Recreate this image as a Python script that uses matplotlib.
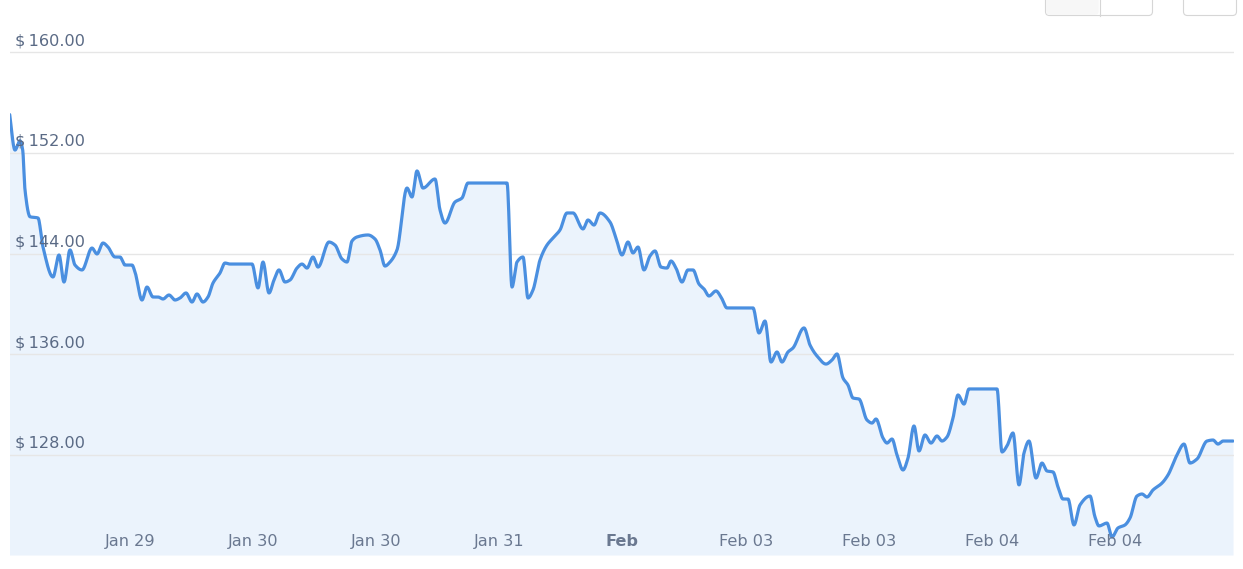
import numpy as np
import matplotlib
matplotlib.use("Agg")
import matplotlib.pyplot as plt
from matplotlib.patches import FancyBboxPatch, Rectangle
from matplotlib.transforms import Affine2D

# ---- data (time index in chart units, price in USD) ----
time_idx = [
    -0.7, 5, 10, 12.7, 15, 20, 28, 33, 43, 49, 54, 60, 65, 72, 82, 87, 93, 98, 105, 110,
    115, 122, 125, 132, 137, 143, 148, 153, 159, 165, 170, 176, 182, 187, 193, 198, 203, 210,
    215, 220, 242, 248, 253, 259, 264, 269, 275, 280, 287, 292, 297, 303, 308, 319, 325, 332,
    337, 342, 347, 358, 365, 370, 375, 380, 387, 397, 402, 407, 413, 425, 430, 435, 445, 452,
    458, 497, 502, 507, 513, 518, 523, 530, 537, 543, 550, 557, 563, 573, 578, 584, 590, 600,
    606, 612, 618, 623, 628, 634, 640, 645, 651, 657, 661, 666, 672, 678, 683, 689, 694, 699,
    706, 711, 717, 743, 749, 755, 761, 767, 772, 778, 783, 794, 800, 807, 816, 822, 827, 833,
    838, 843, 849, 857, 862, 866, 873, 877, 882, 887, 893, 898, 904, 909, 915, 921, 927, 932,
    937, 943, 948, 954, 959, 987, 992, 997, 1003, 1009, 1014, 1019, 1026, 1032, 1037, 1043,
    1048, 1053, 1058, 1064, 1070, 1080, 1085, 1089, 1097, 1102, 1108, 1115, 1120, 1127, 1132,
    1137, 1143, 1152, 1158, 1167, 1174, 1180, 1187, 1197, 1203, 1208, 1213, 1223,
]
price = [
    155.29, 152.24, 152.98, 152.24, 149.07, 146.94, 146.84, 144.53, 142.15, 143.90, 141.75,
    144.30, 143.10, 142.71, 144.45, 143.98, 144.85, 144.53, 143.74, 143.74, 143.10, 143.10,
    142.55, 140.32, 141.35, 140.56, 140.56, 140.40, 140.72, 140.32, 140.48, 140.88, 140.16,
    140.80, 140.16, 140.56, 141.67, 142.47, 143.26, 143.18, 143.18, 141.28, 143.34, 140.88,
    141.91, 142.71, 141.75, 141.91, 142.86, 143.18, 142.86, 143.74, 142.94, 144.93, 144.69,
    143.58, 143.34, 145.01, 145.33, 145.49, 145.17, 144.30, 143.02, 143.34, 144.30, 149.22,
    148.51, 150.58, 149.22, 149.94, 147.48, 146.44, 148.11, 148.43, 149.62, 149.62, 141.35,
    143.34, 143.74, 140.48, 141.12, 143.50, 144.69, 145.25, 145.89, 147.24, 147.24, 145.97,
    146.68, 146.28, 147.24, 146.52, 145.25, 143.90, 144.93, 144.06, 144.53, 142.71, 143.82,
    144.22, 142.94, 142.86, 143.42, 142.86, 141.75, 142.71, 142.71, 141.59, 141.20, 140.64,
    141.04, 140.56, 139.69, 139.69, 137.70, 138.65, 135.39, 136.19, 135.39, 136.19, 136.51,
    138.10, 136.74, 135.87, 135.23, 135.55, 136.03, 134.12, 133.56, 132.53, 132.45, 130.78,
    130.54, 130.86, 129.35, 128.95, 129.27, 128.00, 126.81, 127.76, 130.31, 128.32, 129.59,
    128.95, 129.51, 129.11, 129.43, 130.94, 132.77, 132.05, 133.25, 133.25, 128.24, 128.72,
    129.75, 125.62, 128.16, 129.11, 126.17, 127.36, 126.73, 126.65, 125.46, 124.50, 124.50,
    122.44, 124.03, 124.74, 123.07, 122.36, 122.59, 121.48, 122.20, 122.44, 122.99, 124.74,
    124.90, 124.66, 125.22, 125.77, 126.41, 128.00, 128.87, 127.36, 127.68, 129.11, 129.19,
    128.87, 129.11, 129.11,
]
tick_pos = [120, 243, 366, 489, 612, 736, 859, 982, 1105]
tick_labels = ["Jan 29", "Jan 30", "Jan 30", "Jan 31", "Feb", "Feb 03", "Feb 03", "Feb 04", "Feb 04"]
bold_ticks = ["Feb"]
y_ticks = [128, 136, 144, 152, 160]

LINE = "#4a8fe0"
FILL = "#ebf3fc"
GRID = "#e6e6e6"
YLAB = "#5a6a85"
XLAB = "#6a7890"


def pchip(x, y, xs):
    x = np.asarray(x, float)
    y = np.asarray(y, float)
    h = np.diff(x)
    d = np.diff(y) / h
    m = np.zeros_like(y)
    for k in range(1, len(x) - 1):
        if d[k - 1] * d[k] > 0:
            w1 = 2 * h[k] + h[k - 1]
            w2 = h[k] + 2 * h[k - 1]
            m[k] = (w1 + w2) / (w1 / d[k - 1] + w2 / d[k])
    m[0] = d[0]
    m[-1] = d[-1]
    idx = np.clip(np.searchsorted(x, xs) - 1, 0, len(x) - 2)
    t = (xs - x[idx]) / h[idx]
    h00 = 2 * t**3 - 3 * t**2 + 1
    h10 = t**3 - 2 * t**2 + t
    h01 = -2 * t**3 + 3 * t**2
    h11 = t**3 - t**2
    return h00 * y[idx] + h10 * h[idx] * m[idx] + h01 * y[idx + 1] + h11 * h[idx] * m[idx + 1]


W, H = 1243, 569
fig = plt.figure(figsize=(W / 100, H / 100), dpi=100)
ax = fig.add_axes([10 / W, (H - 555) / H, 1224 / W, 555 / H])

xs = np.linspace(time_idx[0], time_idx[-1], 3000)
ys = pchip(time_idx, price, xs)

ymin = 128 - 100 / 12.58
ymax = 128 + 455 / 12.58
ax.set_xlim(0, 1224)
ax.set_ylim(ymin, ymax)

ax.fill_between(xs, ys, ymin, color=FILL, lw=0, zorder=1)
for yv in y_ticks:
    ax.axhline(yv, color=GRID, lw=1, zorder=2)
ax.plot(xs, ys, color=LINE, lw=2.3, solid_capstyle="round", zorder=3)

for s in ax.spines.values():
    s.set_visible(False)
ax.set_xticks([])
ax.set_yticks([])

for yv in y_ticks:
    ax.annotate("$\u2009%.2f" % yv, xy=(0, yv), xycoords=("axes fraction", "data"),
                xytext=(3.6, 5.2), textcoords="offset points", ha="left", va="baseline",
                fontsize=11.6, color=YLAB, family="DejaVu Sans", parse_math=False, zorder=4)

for tp, tl in zip(tick_pos, tick_labels):
    ax.annotate(tl, xy=(tp, 0), xycoords=("data", "axes fraction"),
                xytext=(0, 10), textcoords="offset points", ha="center", va="center",
                fontsize=11.6, color=XLAB, family="DejaVu Sans",
                fontweight="bold" if tl in bold_ticks else "normal", zorder=4)

# top-right buttons (partially cut off)
def px_box(x0, y0, x1, y1, fc, ec):
    p = FancyBboxPatch((x0, H - y1), x1 - x0, y1 - y0,
                       boxstyle="round,pad=0,rounding_size=4",
                       transform=fig.dpi_scale_trans + Affine2D().scale(1) if False else None,
                       fc=fc, ec=ec, lw=0.8)
    return p

from matplotlib.transforms import IdentityTransform
for (x0, x1) in [(1045.5, 1152.5), (1183.5, 1236.5)]:
    p = FancyBboxPatch((x0, H - 15.5), x1 - x0, 30,
                       boxstyle="round,pad=0,rounding_size=4",
                       transform=IdentityTransform(), fc="white", ec="#d6d6d6", lw=0.8)
    fig.patches.append(p)
left = FancyBboxPatch((1046.2, H - 14.8), 52.5, 30,
                      boxstyle="round,pad=0,rounding_size=3.5",
                      transform=IdentityTransform(), fc="#f7f7f7", ec="none")
fig.patches.append(left)
fig.add_artist(matplotlib.lines.Line2D([1099.5, 1099.5], [H - 15.5, H], color="#d6d6d6",
                                       lw=0.8, transform=IdentityTransform()))

fig.savefig("out.png", dpi=100)
